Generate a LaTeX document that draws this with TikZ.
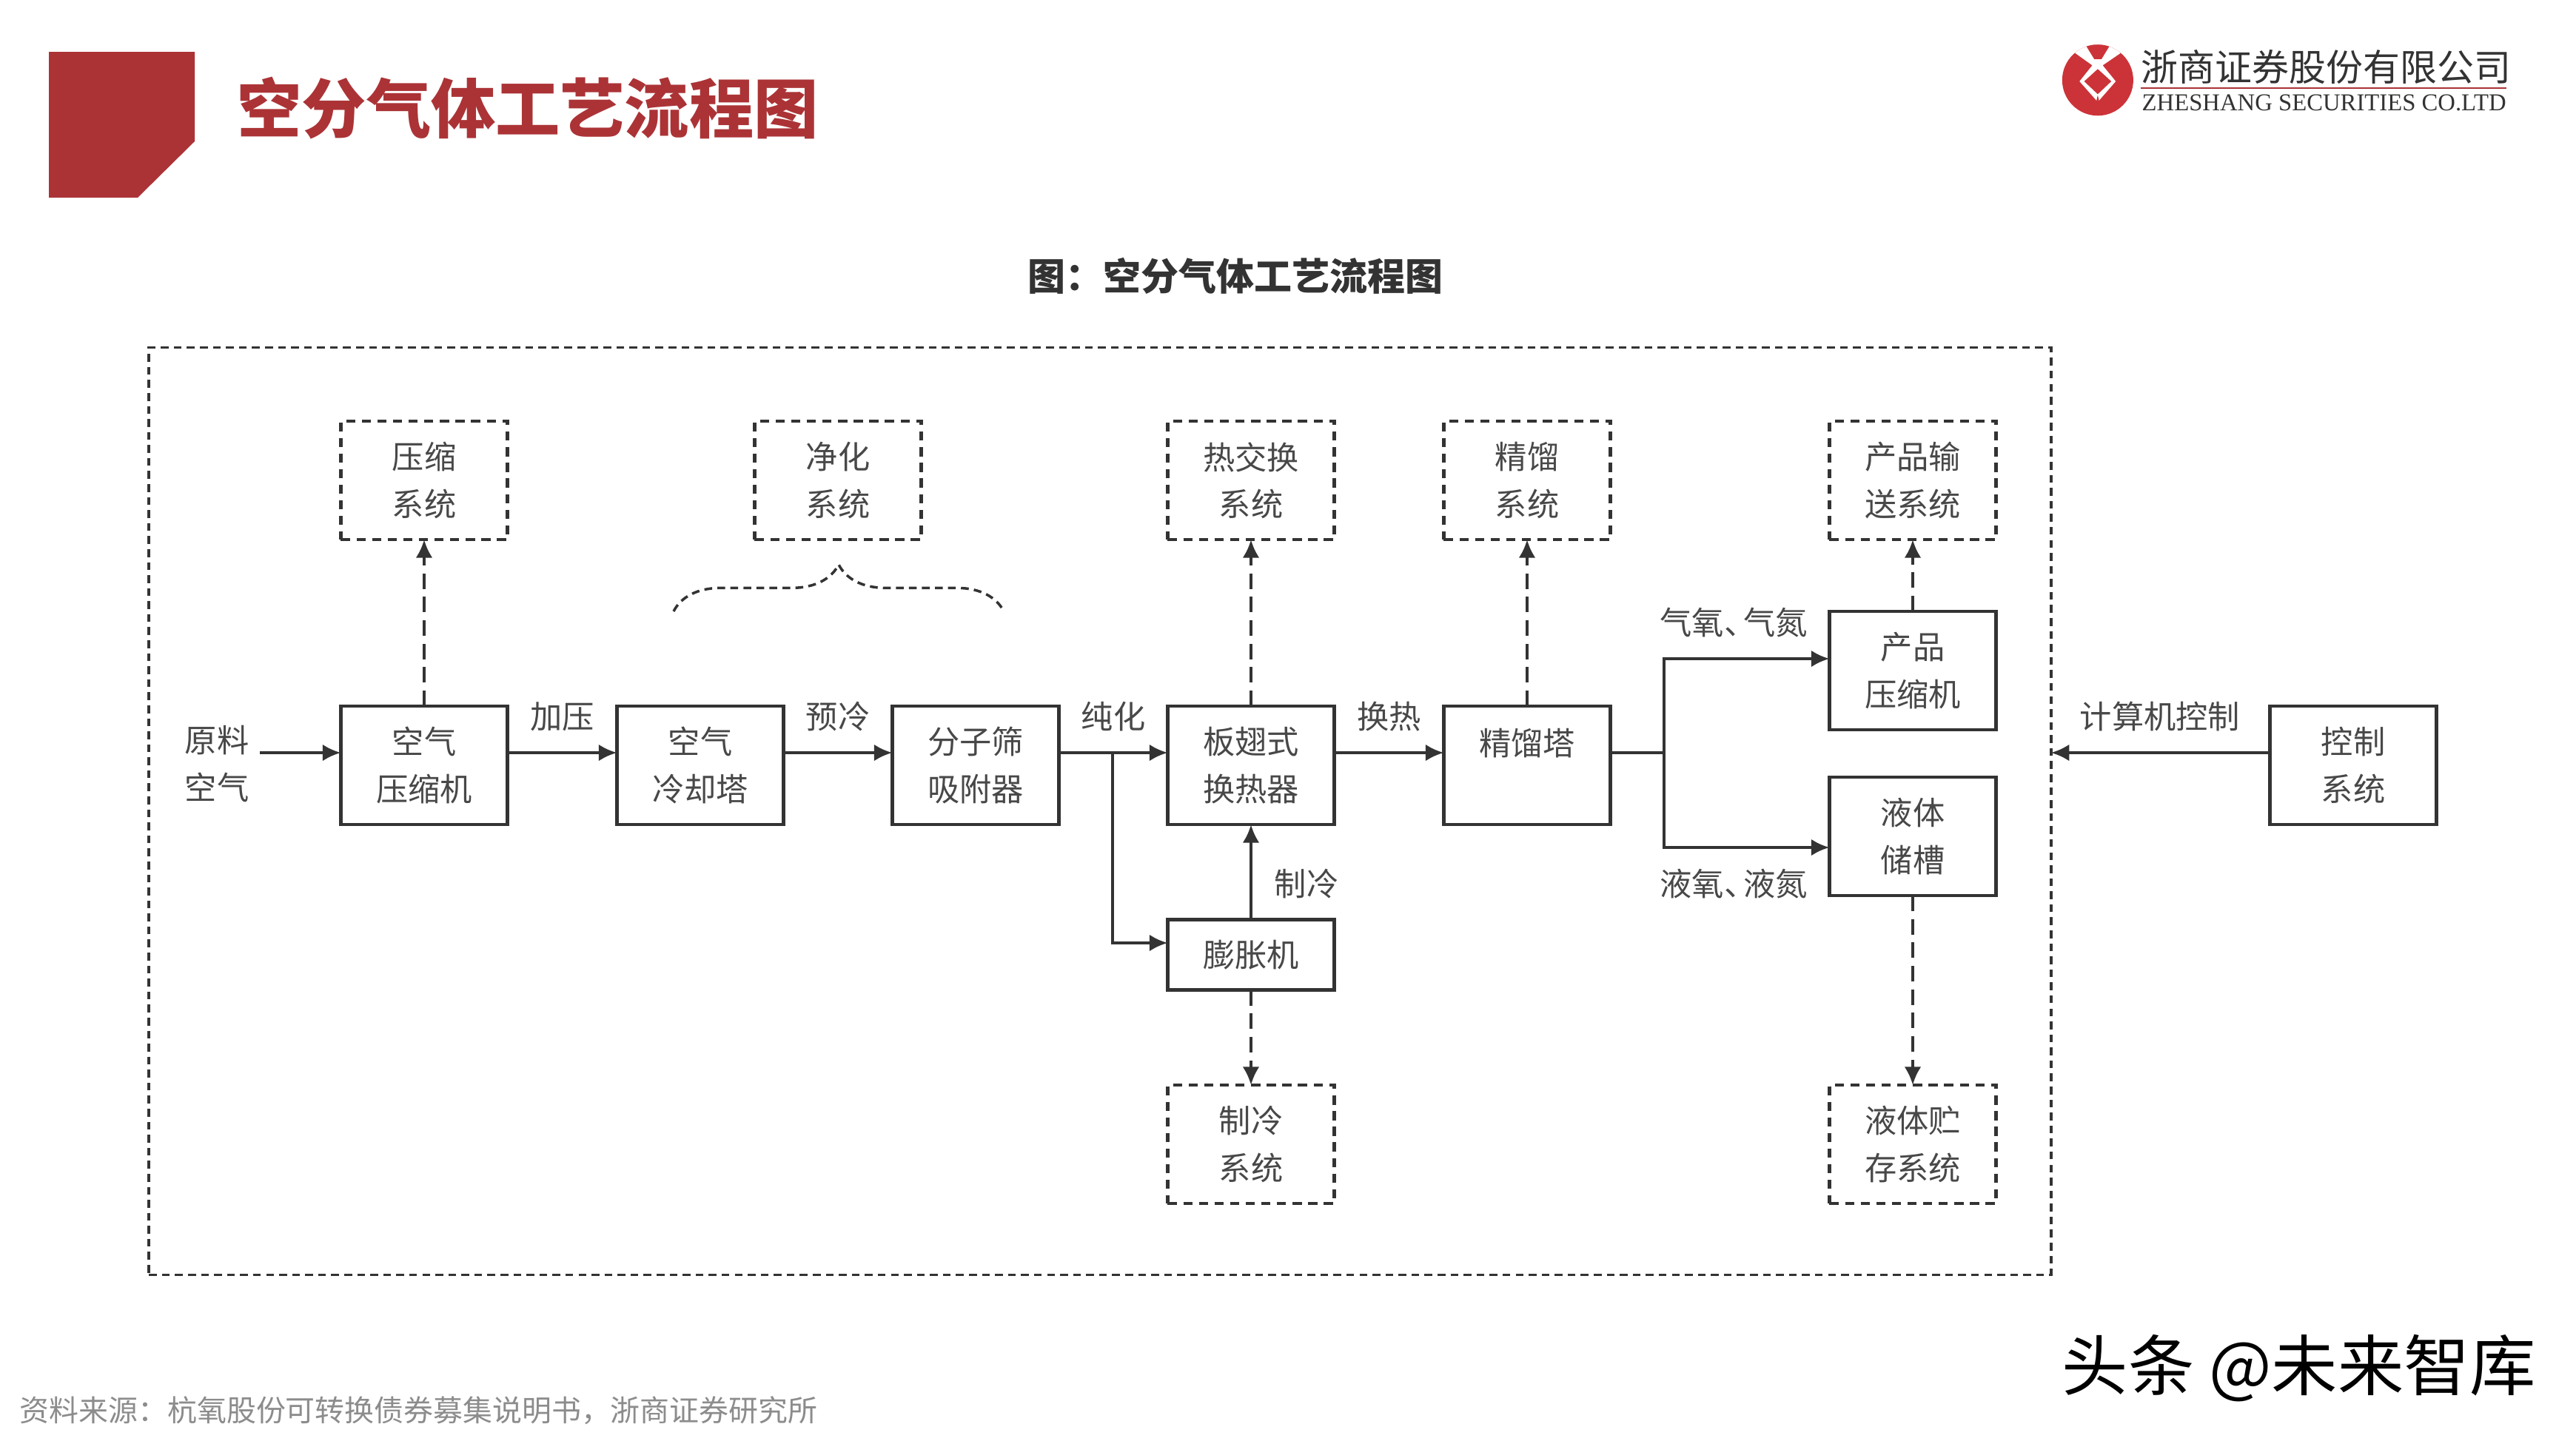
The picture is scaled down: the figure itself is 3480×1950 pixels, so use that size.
\documentclass[tikz,border=0pt]{standalone}
\usepackage{fontspec}
\setmainfont{Noto Sans CJK SC}
\newfontfamily\latinserif{Liberation Serif}
\usetikzlibrary{arrows.meta,decorations.pathreplacing}
\definecolor{zsred}{HTML}{AB3336}
\definecolor{logored}{HTML}{CC3338}
\definecolor{inkline}{HTML}{333333}
\definecolor{inktext}{HTML}{484848}
\tikzset{
	boxtext/.style={align=center, text=inktext, font=\fontsize{12.3pt}{18pt}\selectfont},
	procbox/.style={boxtext, draw=inkline, line width=1.2pt, inner sep=0pt, outer sep=0pt, minimum width=2.25cm, minimum height=1.6cm},
	sysbox/.style={procbox, dash pattern=on 3.5pt off 2.5pt},
	flowlabel/.style={boxtext, inner sep=0pt},
	flowline/.style={draw=inkline, line width=1.2pt},
	flowarrow/.style={flowline, -{Latex[length=7pt,width=6.5pt]}},
	dasharrow/.style={flowarrow, dash pattern=on 6pt off 3pt},
}
\begin{document}
\begin{tikzpicture}[x=0.01cm, y=-0.01cm]
		\useasboundingbox (0,0) rectangle (3480,1950);
		\fill[zsred] (66,70) -- (263,70) -- (263,191) -- (186,267) -- (66,267) --cycle;
		\node[anchor=west, inner sep=0pt, text=zsred, font=\fontsize{24.8pt}{28pt}\selectfont\bfseries] (pagetitle) at (320,146) {空分气体工艺流程图};
		\node[inner sep=0pt, text=inkline, font=\fontsize{14.5pt}{18pt}\selectfont\bfseries] (figtitle) at (1669,373) {图：空分气体工艺流程图};
		\begin{scope}[shift={(2770,50)}, x=0.00333cm, y=-0.00333cm]
		\fill[logored] (192,175) circle[radius=0.48cm];
		\clip (192,175) circle[radius=0.48cm];
		\fill[white] (100,65) -- (135,25) -- (250,25) -- (285,65) -- (212,115) -- (265,180) -- (197,258) -- (187,258) -- (118,180) -- (170,115) --cycle;
		\fill[logored] (135,20) -- (250,20) -- (207,90) -- (178,90) --cycle;
		\fill[logored] (192,130) -- (247,180) -- (192,232) -- (137,180) --cycle;
		\fill[logored] (186,262) -- (198,262) -- (192,236) --cycle;
		\end{scope}
		\node[anchor=west, inner sep=0pt, text=inkline, font=\fontsize{14.2pt}{16pt}\selectfont] (logocn) at (2892,90) {浙商证券股份有限公司};
		\draw[zsred, line width=0.8pt] (2892,119) -- (3386,119);
		\node[anchor=west, inner sep=0pt, text=inkline, font=\fontsize{9.3pt}{11pt}\selectfont\latinserif] (logoen) at (2893,139) {ZHESHANG SECURITIES CO.LTD};

		\node[draw=inkline, line width=1pt, outer sep=0pt, dash pattern=on 3pt off 2pt, minimum width=25.68cm, minimum height=12.52cm] (frame) at (1486,1096) {};
		\coordinate (mainrow) at (0,1017);

		\node[flowlabel] (rawair) at (293,1032) {原料\\空气};
		\node[procbox] (aircomp) at (573,1034) {空气\\压缩机};
		\node[procbox] (coolTower) at (946,1034) {空气\\冷却塔};
		\node[procbox] (sieve) at (1318,1034) {分子筛\\吸附器};
		\node[procbox] (plateHx) at (1690,1034) {板翅式\\换热器};
		\node[procbox] (column) at (2063,1034) {精馏塔\\\mbox{}};
		\node[procbox] (prodComp) at (2584,906) {产品\\压缩机};
		\node[procbox] (liqTank) at (2584,1130) {液体\\储槽};
		\node[procbox, minimum height=0.95cm] (expander) at (1690,1290) {膨胀机};
		\node[procbox] (control) at (3179,1034) {控制\\系统};

		\node[sysbox] (compSys) at (573,649) {压缩\\系统};
		\node[sysbox] (pureSys) at (1132,649) {净化\\系统};
		\node[sysbox] (hxSys) at (1690,649) {热交换\\系统};
		\node[sysbox] (distSys) at (2063,649) {精馏\\系统};
		\node[sysbox] (sendSys) at (2584,649) {产品输\\送系统};
		\node[sysbox] (coldSys) at (1690,1546) {制冷\\系统};
		\node[sysbox] (storeSys) at (2584,1546) {液体贮\\存系统};

		\draw[flowarrow] ([xshift=0.14cm]rawair.east |- mainrow) -- (aircomp.west |- mainrow);
		\draw[flowarrow] (aircomp.east |- mainrow) -- (coolTower.west |- mainrow) node[flowlabel, midway, yshift=0.49cm] (lblpress) {加压};
		\draw[flowarrow] (coolTower.east |- mainrow) -- (sieve.west |- mainrow) node[flowlabel, midway, yshift=0.49cm] (lblprecool) {预冷};
		\draw[flowarrow] (sieve.east |- mainrow) -- (plateHx.west |- mainrow) node[flowlabel, midway, yshift=0.49cm] (lblpure) {纯化};
		\draw[flowarrow] (plateHx.east |- mainrow) -- (column.west |- mainrow) node[flowlabel, midway, yshift=0.49cm] (lblheat) {换热};
		\coordinate (purejoin) at (1503,1017);
		\draw[flowarrow] (purejoin) |- (expander.west |- 0,1274);
		\draw[flowarrow] (expander.north) -- (plateHx.south);
		\node[flowlabel] (lblcold) at (1765,1194) {制冷};
		\coordinate (splitjoin) at (2248,1017);
		\draw[flowline] (column.east |- mainrow) -- (splitjoin);
		\draw[flowarrow] (splitjoin) |- (prodComp.west |- 0,890);
		\draw[flowarrow] (splitjoin) |- (liqTank.west |- 0,1145);
		\node[flowlabel] (lblgas) at (2342,841) {气氧、\kern-0.4em气氮};
		\node[flowlabel] (lblliq) at (2342,1194) {液氧、\kern-0.4em液氮};
		\draw[flowarrow] (control.west |- mainrow) -- (frame.east |- mainrow);
		\node[flowlabel] (lblctrl) at (2918,968) {计算机控制};

		\draw[dasharrow] (aircomp.north) -- (compSys.south);
		\draw[dasharrow] (plateHx.north) -- (hxSys.south);
		\draw[dasharrow] (column.north) -- (distSys.south);
		\draw[dasharrow] (prodComp.north) -- (sendSys.south);
		\draw[dasharrow] (expander.south) -- (coldSys.north);
		\draw[dasharrow] (liqTank.south) -- (storeSys.north);

		\coordinate (bracel) at (910,826);
		\coordinate (bracer) at (1356,826);
		\draw[inkline, line width=1pt, dash pattern=on 3pt off 2pt, decorate, decoration={brace, amplitude=18pt}] (bracel) -- (bracer);

		\node[anchor=west, inner sep=0pt, text=black, font=\fontsize{25.4pt}{28pt}\selectfont] (mark) at (2785,1849) {头条 @未来智库};
		\node[anchor=west, inner sep=0pt, text=black!45, font=\fontsize{11.35pt}{13pt}\selectfont] (source) at (26,1906) {资料来源：杭氧股份可转换债券募集说明书，浙商证券研究所};
		\end{tikzpicture}
\end{document}
